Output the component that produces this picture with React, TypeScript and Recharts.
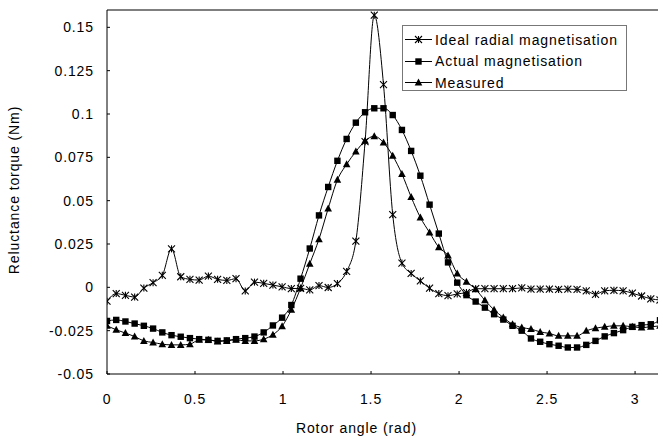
import React from 'react';
import { LineChart, Line, XAxis, YAxis, Legend, ReferenceLine } from 'recharts';

// rotor angle in rad, 3 degree steps
const angles = [
  0, 0.0524, 0.1047, 0.1571, 0.2094, 0.2618, 0.3142, 0.3665, 0.4189, 0.4712,
  0.5236, 0.576, 0.6283, 0.6807, 0.733, 0.7854, 0.8378, 0.8901, 0.9425, 0.9948,
  1.0472, 1.0996, 1.1519, 1.2043, 1.2566, 1.309, 1.3614, 1.4137, 1.4661, 1.5184,
  1.5708, 1.6232, 1.6755, 1.7279, 1.7802, 1.8326, 1.885, 1.9373, 1.9897, 2.042,
  2.0944, 2.1468, 2.1991, 2.2515, 2.3038, 2.3562, 2.4086, 2.4609, 2.5133, 2.5656,
  2.618, 2.6704, 2.7227, 2.7751, 2.8274, 2.8798, 2.9322, 2.9845, 3.0369, 3.0892,
  3.1416,
];

const idealRadial = [
  -0.008, -0.0036, -0.0046, -0.0056, -0.0004, 0.0027, 0.0069, 0.0222, 0.0061, 0.0046,
  0.0042, 0.0065, 0.0046, 0.004, 0.005, -0.0021, 0.003, 0.0023, 0.0013, 0.0003,
  -0.0007, -0.0006, -0.0015, 0.001, -0.0001, 0.0022, 0.0092, 0.0266, 0.084, 0.157,
  0.117, 0.042, 0.014, 0.008, 0.0037, -0.0005, -0.0036, -0.0048, -0.0038, -0.003,
  -0.0008, -0.0008, -0.0008, -0.0008, -0.0008, -0.0003, -0.001, -0.001, -0.001, -0.0012,
  -0.001, -0.0012, -0.002, -0.004, -0.002, -0.0017, -0.002, -0.0034, -0.005, -0.0066,
  -0.0073,
];

const actualMag = [
  -0.0194, -0.0188, -0.0197, -0.0209, -0.0222, -0.0238, -0.026, -0.0276, -0.0285, -0.0293,
  -0.0299, -0.0303, -0.0309, -0.0306, -0.0299, -0.0293, -0.0284, -0.026, -0.022, -0.0175,
  -0.0102, 0.005, 0.0224, 0.0415, 0.0579, 0.073, 0.0856, 0.095, 0.101, 0.1033,
  0.1033, 0.0994, 0.0908, 0.0787, 0.0644, 0.0477, 0.031, 0.0144, 0.0027, -0.0045,
  -0.0082, -0.0117, -0.0155, -0.0186, -0.0222, -0.025, -0.0295, -0.0314, -0.0328, -0.0337,
  -0.0347, -0.0347, -0.0332, -0.0309, -0.0283, -0.0264, -0.0247, -0.0228, -0.0218, -0.0213,
  -0.019,
];

const measured = [
  -0.0222, -0.0245, -0.0264, -0.0284, -0.0309, -0.0318, -0.0328, -0.0332, -0.0332, -0.0328,
  -0.0303, -0.0303, -0.0312, -0.0309, -0.0303, -0.0309, -0.0309, -0.0299, -0.0273, -0.0224,
  -0.013, -0.0005, 0.0136, 0.0278, 0.0455, 0.062, 0.071, 0.0783, 0.0845, 0.0872,
  0.0835, 0.0759, 0.0654, 0.0521, 0.0403, 0.0316, 0.0231, 0.0184, 0.008, 0.0032,
  -0.0011, -0.0075, -0.013, -0.0174, -0.0213, -0.0232, -0.0241, -0.0257, -0.0266, -0.028,
  -0.028, -0.028, -0.0251, -0.0236, -0.0228, -0.0222, -0.0222, -0.0228, -0.0232, -0.0228,
  -0.0222,
];

const xTicks = [0, 0.5, 1, 1.5, 2, 2.5, 3];
const yTicks = [-0.05, -0.025, 0, 0.025, 0.05, 0.075, 0.1, 0.125, 0.15];

const data = angles.map((a, i) => ({
  angle: a,
  ideal: idealRadial[i],
  actual: actualMag[i],
  measured: measured[i],
}));

const FONT = '"Liberation Sans", Arial, Helvetica, sans-serif';
const tickStyle = { fontSize: 14, fill: '#000', fontFamily: FONT, letterSpacing: 0.9 };

const StarMark = ({ cx, cy }: { cx: number; cy: number }) => (
  <g stroke="#000" strokeWidth={1.1}>
    <line x1={cx - 3.5} y1={cy - 3.5} x2={cx + 3.5} y2={cy + 3.5} />
    <line x1={cx - 3.5} y1={cy + 3.5} x2={cx + 3.5} y2={cy - 3.5} />
    <line x1={cx} y1={cy - 3.5} x2={cx} y2={cy + 3.5} />
  </g>
);

const SquareMark = ({ cx, cy }: { cx: number; cy: number }) => (
  <rect x={cx - 3.2} y={cy - 3.2} width={6.4} height={6.4} fill="#000" />
);

const TriMark = ({ cx, cy }: { cx: number; cy: number }) => (
  <polygon
    points={`${cx},${cy - 4} ${cx + 3.8},${cy + 3} ${cx - 3.8},${cy + 3}`}
    fill="#000"
  />
);

const dotOf = (Mark: any) => (p: any) =>
  p.cx == null ? <g key={p.key ?? p.index} /> : <Mark key={p.key ?? p.index} cx={p.cx} cy={p.cy} />;

const legendItems = [
  { label: 'Ideal radial magnetisation', Mark: StarMark },
  { label: 'Actual magnetisation', Mark: SquareMark },
  { label: 'Measured', Mark: TriMark },
];

const renderLegend = () => (
  <div
    style={{
      width: 225,
      height: 66,
      boxSizing: 'border-box',
      border: '1px solid #777',
      background: '#fff',
      paddingTop: 3,
      fontFamily: FONT,
      fontSize: 14,
      letterSpacing: 0.9,
      color: '#000',
    }}
  >
    {legendItems.map(({ label, Mark }) => (
      <div key={label} style={{ display: 'flex', alignItems: 'center', height: 21.5 }}>
        <svg width={30} height={21} style={{ marginLeft: 1, flex: 'none' }}>
          <line x1={1} y1={10.5} x2={28} y2={10.5} stroke="#000" strokeWidth={1} />
          <Mark cx={14.5} cy={10.5} />
        </svg>
        <span style={{ marginLeft: 1, whiteSpace: 'nowrap' }}>{label}</span>
      </div>
    ))}
  </div>
);

export default function App() {
  return (
    <div
      style={{
        position: 'absolute',
        left: 0,
        top: 0,
        width: 658,
        height: 436,
        overflow: 'hidden',
        background: '#fff',
      }}
    >
      <LineChart
        width={670}
        height={436}
        data={data}
        margin={{ top: 10, right: 10, left: 0, bottom: 0 }}
      >
        <XAxis
          type="number"
          dataKey="angle"
          domain={[0, 3.1416]}
          ticks={xTicks}
          allowDataOverflow
          tick={tickStyle}
          tickSize={-3}
          tickMargin={23}
          height={62}
          stroke="#000"
          label={{
            content: ({ viewBox }: any) => (
              <text
                x={viewBox.x + viewBox.width / 2 - 27}
                y={433}
                textAnchor="middle"
                fontFamily={FONT}
                fontSize={14}
                letterSpacing={0.9}
                fill="#000"
              >
                Rotor angle (rad)
              </text>
            ),
          }}
        />
        <YAxis
          type="number"
          domain={[-0.05, 0.16]}
          ticks={yTicks}
          allowDataOverflow
          tick={tickStyle}
          tickSize={-3}
          tickMargin={16}
          width={107}
          stroke="#000"
          label={{
            content: () => (
              <text
                x={14}
                y={190}
                transform="rotate(-90 14 190)"
                textAnchor="middle"
                dominantBaseline="central"
                fontFamily={FONT}
                fontSize={14}
                letterSpacing={0.9}
                fill="#000"
              >
                Reluctance torque (Nm)
              </text>
            ),
          }}
        />
        <ReferenceLine y={0.16} stroke="#000" strokeWidth={1.2} />
        <Legend
          layout="vertical"
          align="center"
          verticalAlign="middle"
          content={renderLegend}
          wrapperStyle={{ left: 402, top: 25, width: 225, height: 66 }}
        />
        <Line
          type="monotone"
          dataKey="ideal"
          name="Ideal radial magnetisation"
          stroke="#000"
          strokeWidth={1}
          dot={dotOf(StarMark)}
          activeDot={false}
          isAnimationActive={false}
        />
        <Line
          type="monotone"
          dataKey="actual"
          name="Actual magnetisation"
          stroke="#000"
          strokeWidth={1}
          dot={dotOf(SquareMark)}
          activeDot={false}
          isAnimationActive={false}
        />
        <Line
          type="monotone"
          dataKey="measured"
          name="Measured"
          stroke="#000"
          strokeWidth={1}
          dot={dotOf(TriMark)}
          activeDot={false}
          isAnimationActive={false}
        />
      </LineChart>
    </div>
  );
}
